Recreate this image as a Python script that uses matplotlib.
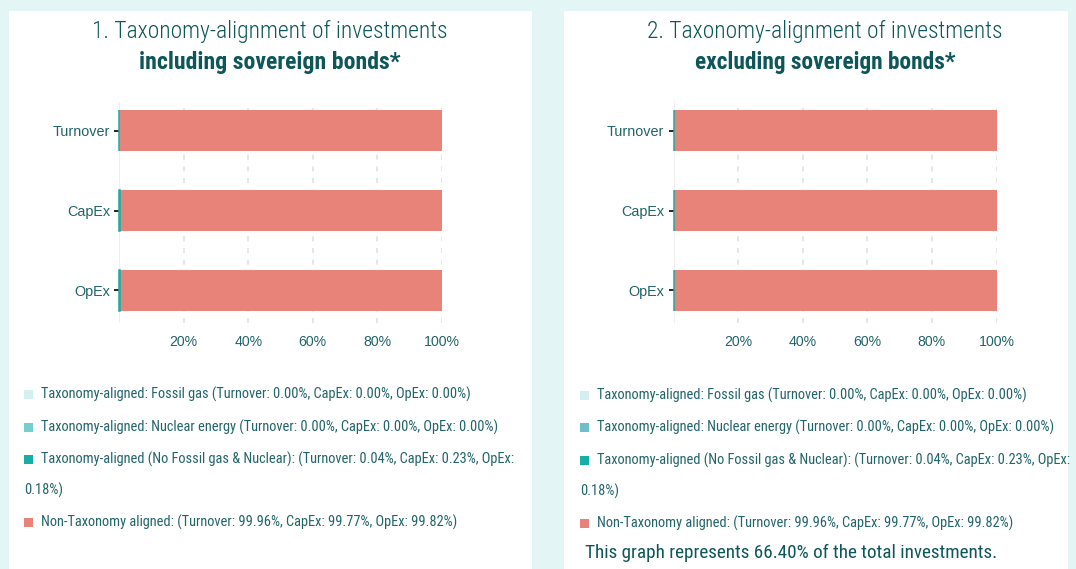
import logging
import numpy as np
import matplotlib
matplotlib.use("Agg")
import matplotlib.pyplot as plt
from matplotlib import font_manager as fm
from matplotlib.patches import Rectangle

logging.getLogger("matplotlib.font_manager").setLevel(logging.ERROR)

# --- data ---
categories = ["Turnover", "CapEx", "OpEx"]
series_names = [
    "Taxonomy-aligned: Fossil gas",
    "Taxonomy-aligned: Nuclear energy",
    "Taxonomy-aligned (No Fossil gas & Nuclear):",
    "Non-Taxonomy aligned:",
]
incl_fossil = [0.00, 0.00, 0.00]
incl_nuclear = [0.00, 0.00, 0.00]
incl_aligned = [0.04, 0.23, 0.18]
incl_non = [99.96, 99.77, 99.82]

excl_fossil = [0.00, 0.00, 0.00]
excl_nuclear = [0.00, 0.00, 0.00]
excl_aligned = [0.04, 0.23, 0.18]
excl_non = [99.96, 99.77, 99.82]

x_ticks = [20, 40, 60, 80, 100]
share_of_total = 66.40

titles = [
    ("1. Taxonomy-alignment of investments", "including sovereign bonds*"),
    ("2. Taxonomy-alignment of investments", "excluding sovereign bonds*"),
]

# --- style ---
W, H = 1076, 569
BG = "#e4f5f5"
TITLE_C = "#0d5659"
TEXT_C = "#21646a"
COLORS_L = ["#d3efef", "#74d0cc", "#17aea6", "#e8837a"]
COLORS_R = ["#d3efef", "#6bbfc9", "#17aea6", "#e8837a"]
SANS = ["Liberation Sans", "DejaVu Sans"]


def find_narrow(style="regular"):
    # look for a condensed / narrow face among installed fonts
    cands = []
    for f in fm.fontManager.ttflist:
        name = f.fname.lower()
        if ("condensed" in name or "narrow" in name) and "italic" not in name and "oblique" not in name:
            cands.append(f.fname)
    if not cands:
        return fm.FontProperties(family=SANS, weight="bold" if style == "bold" else "normal")

    def score(path):
        base = path.lower().rsplit("/", 1)[-1]
        s = 0 if "roboto" in base else 1
        if style == "bold":
            s += 0 if ("bold" in base and "semi" not in base and "extra" not in base) else 10
        elif style == "light":
            s += 0 if ("light" in base and "extra" not in base) else (5 if "regular" in base else 10)
        else:
            s += 0 if "regular" in base else (5 if "bold" not in base and "light" not in base
                                              and "thin" not in base and "black" not in base
                                              and "medium" not in base else 10)
        return (s, base)

    cands.sort(key=score)
    return fm.FontProperties(fname=cands[0])


NARROW = find_narrow("regular")
NARROW_L = find_narrow("light")
NARROW_B = find_narrow("bold")


def fx(x):
    return x / W


def fy(y):
    return 1 - y / H


def legend_label(name, vals):
    return f"{name} (Turnover: {vals[0]:.2f}%, CapEx: {vals[1]:.2f}%, OpEx: {vals[2]:.2f}%)"


fig = plt.figure(figsize=(W / 100, H / 100), dpi=100)
fig.patch.set_facecolor(BG)
renderer = fig.canvas.get_renderer()


def fit_text(t, width_px):
    w = t.get_window_extent(renderer).width
    t.set_fontsize(t.get_fontsize() * width_px / w)
    return t.get_fontsize()


# legend font size: widest line (wrapped row) should span ~472 px as in the original
probe = fig.text(0, 0, legend_label(series_names[2], incl_aligned).rsplit(" ", 1)[0],
                 fontproperties=NARROW, fontsize=10)
legend_size = fit_text(probe, 470)
probe.remove()

# white panels
for x0, x1 in [(9, 532), (564, 1068)]:
    fig.patches.append(Rectangle((fx(x0), 0), fx(x1 - x0), fy(11), transform=fig.transFigure,
                                 facecolor="white", edgecolor="none", zorder=-5))

panels = [
    dict(x0=119, cx=270, sq=24, tx=41, rows=[394, 427, 459, 490, 522], colors=COLORS_L,
         series=[incl_fossil, incl_nuclear, incl_aligned, incl_non], title=titles[0]),
    dict(x0=673.5, cx=825, sq=580, tx=597, rows=[395, 427, 460, 491, 523], colors=COLORS_R,
         series=[excl_fossil, excl_nuclear, excl_aligned, excl_non], title=titles[1]),
]

for p in panels:
    ax = fig.add_axes([fx(p["x0"]), fy(323), fx(323), (323 - 102) / H])
    ax.set_zorder(2)
    ax.set_facecolor("none")
    y = np.arange(len(categories))
    left = np.zeros(len(categories))
    for k, (vals, col) in enumerate(zip(p["series"], p["colors"])):
        vals = np.array(vals)
        lw = 1.1 if k == 2 else 0
        ax.barh(y, vals, left=left, height=0.51, color=col, edgecolor=col,
                linewidth=lw, zorder=5 if lw else 4, clip_on=False)
        left += vals
    ax.set_xlim(0, 100)
    ax.set_ylim(2.41, -0.36)
    ax.set_yticks(y)
    ax.set_yticklabels(categories, family=SANS, fontsize=10.4, color=TEXT_C)
    ax.set_xticks(x_ticks)
    ax.set_xticklabels([f"{t}%" for t in x_ticks], family=SANS, fontsize=10.2, color=TEXT_C)
    ax.tick_params(axis="x", length=0, pad=9)
    ax.tick_params(axis="y", length=3.5, width=1.2, color="black", pad=3)
    for s in ax.spines.values():
        s.set_visible(False)
    ax.axvline(0, color="#ebebeb", linewidth=1.2, zorder=1)
    for t in x_ticks:
        ax.axvline(t, color="#e2e2e2", linewidth=1.2, linestyle=(0, (3, 4)), zorder=1)

    # titles
    t1 = fig.text(fx(p["cx"]), fy(31), p["title"][0], fontproperties=NARROW_L, fontsize=17,
                  color=TITLE_C, ha="center", va="center")
    fit_text(t1, 357)
    t2 = fig.text(fx(p["cx"]), fy(62), p["title"][1], fontproperties=NARROW_B, fontsize=16,
                  color=TITLE_C, ha="center", va="center")
    fit_text(t2, 261)

    # legend
    rows = p["rows"]
    row_idx = [0, 1, 2, 4]
    for i, (name, vals, col) in enumerate(zip(series_names, p["series"], p["colors"])):
        ry = rows[row_idx[i]]
        fig.patches.append(Rectangle((fx(p["sq"]), fy(ry + 5)), fx(9), 9 / H,
                                     transform=fig.transFigure, facecolor=col,
                                     edgecolor="none", zorder=2))
        label = legend_label(name, vals)
        if i == 2:
            head, tail = label.rsplit(" ", 1)
            fig.text(fx(p["tx"]), fy(ry), head, fontproperties=NARROW, fontsize=legend_size,
                     color=TEXT_C, ha="left", va="center")
            fig.text(fx(p["sq"]), fy(rows[3]), tail, fontproperties=NARROW, fontsize=legend_size,
                     color=TEXT_C, ha="left", va="center")
        else:
            fig.text(fx(p["tx"]), fy(ry), label, fontproperties=NARROW, fontsize=legend_size,
                     color=TEXT_C, ha="left", va="center")

foot = fig.text(fx(585), fy(553), f"This graph represents {share_of_total:.2f}% of the total investments.",
                fontproperties=NARROW, fontsize=13, color=TITLE_C, ha="left", va="center")
fit_text(foot, 410)

fig.savefig("out.png", dpi=100, facecolor=BG)
